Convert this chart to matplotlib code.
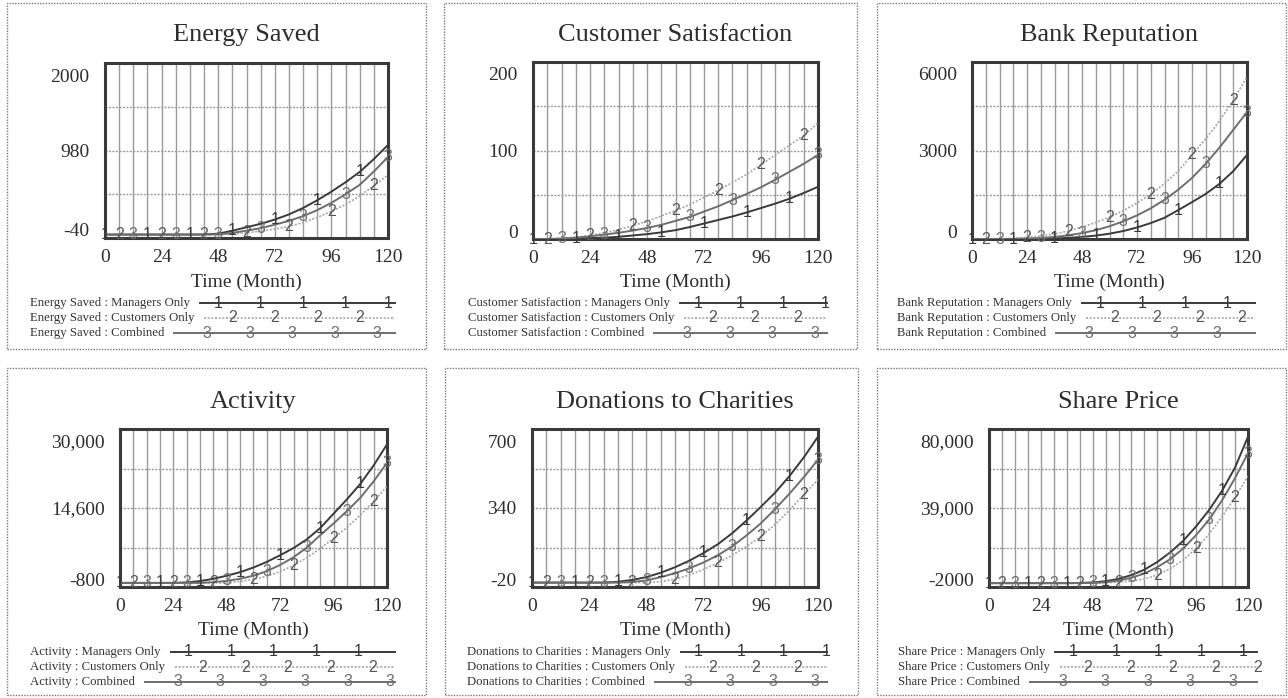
import numpy as np
import matplotlib
matplotlib.use("Agg")
import matplotlib.pyplot as plt
from matplotlib.lines import Line2D
from matplotlib.patches import Rectangle
import matplotlib.transforms as mtrans

W, H = 1288, 698
DPI = 100

# ---------------- data ----------------
months = list(range(0, 121, 6))
series_names = ["Managers Only", "Customers Only", "Combined"]
titles = ["Energy Saved", "Customer Satisfaction", "Bank Reputation",
          "Activity", "Donations to Charities", "Share Price"]

energy_managers = [0, 0, 0, 0, 0, 0, 0, 2, 10, 45, 85, 125, 175, 235, 310, 400, 500, 610, 730, 880, 1045]
energy_customers = [0, 0, 0, 0, 0, 0, 0, 0, 0, 5, 20, 40, 65, 95, 140, 200, 270, 350, 450, 570, 695]
energy_combined = [0, 0, 0, 0, 0, 0, 0, 0, 2, 20, 45, 75, 115, 160, 215, 285, 370, 470, 580, 735, 905]

satisf_managers = [0, 0, 0, 0.5, 1, 1.5, 2.5, 4, 5.5, 7.5, 10, 13.5, 17.5, 21.5, 25.5, 30, 35, 40, 45.5, 52, 59]
satisf_customers = [0, 0, 0.5, 2, 4, 7, 10.5, 15, 20, 26, 32, 39, 47, 55, 64, 73, 84, 95, 106, 117, 131]
satisf_combined = [0, 0, 0.5, 1.5, 3, 5, 7, 9.5, 12.5, 16, 20.5, 25, 31, 37, 44, 51, 58.5, 67, 76, 85, 95]

reput_managers = [0, 0, 0, 0, 2, 8, 20, 40, 70, 115, 180, 270, 390, 540, 720, 980, 1250, 1530, 1870, 2300, 2850]
reput_customers = [0, 0, 5, 20, 55, 100, 170, 270, 400, 560, 740, 960, 1220, 1520, 1880, 2300, 2850, 3400, 4000, 4700, 5500]
reput_combined = [0, 0, 0, 5, 15, 35, 70, 125, 200, 300, 430, 600, 800, 1040, 1330, 1670, 2070, 2550, 3100, 3700, 4300]

activ_managers = [0, 0, 0, 0, 0, 100, 350, 800, 1400, 2100, 3000, 4100, 5400, 6800, 8500, 10700, 13500, 16300, 19300, 22900, 27000]
activ_customers = [0, 0, 0, 0, 0, 0, 0, 0, 0, 300, 700, 1300, 2200, 3400, 4900, 6700, 8700, 10800, 13200, 15900, 18800]
activ_combined = [0, 0, 0, 0, 0, 0, 0, 150, 400, 800, 1400, 2300, 3500, 5000, 6900, 9300, 11600, 14000, 16600, 19800, 23400]

donat_managers = [0, 0, 0, 0, 0, 0, 4, 12, 25, 45, 70, 100, 135, 175, 225, 283, 345, 410, 485, 570, 665]
donat_customers = [0, 0, 0, 0, 0, 0, 0, 0, 0, 5, 15, 35, 60, 90, 125, 165, 210, 265, 330, 400, 470]
donat_combined = [0, 0, 0, 0, 0, 0, 0, 3, 10, 25, 43, 65, 92, 125, 165, 215, 270, 335, 405, 480, 560]

share_managers = [0, 0, 0, 0, 0, 0, 0, 100, 400, 1000, 2200, 4200, 7000, 11000, 16000, 22000, 29500, 38000, 48000, 60000, 76000]
share_customers = [0, 0, 0, 0, 0, 0, 0, 0, 0, 200, 500, 1100, 2200, 4200, 7500, 12000, 18000, 25500, 34500, 44500, 55500]
share_combined = [0, 0, 0, 0, 0, 0, 0, 0, 100, 500, 1300, 2800, 5000, 8300, 12500, 18000, 25000, 33000, 43000, 54500, 67500]

panel_series = [
    [energy_managers, energy_customers, energy_combined],
    [satisf_managers, satisf_customers, satisf_combined],
    [reput_managers, reput_customers, reput_combined],
    [activ_managers, activ_customers, activ_combined],
    [donat_managers, donat_customers, donat_combined],
    [share_managers, share_customers, share_combined],
]
y_ticks = [[-40, 980, 2000], [0, 100, 200], [0, 3000, 6000],
           [-800, 14600, 30000], [-20, 340, 700], [-2000, 39000, 80000]]
y_tick_labels = [["-40", "980", "2000"], ["0", "100", "200"], ["0", "3000", "6000"],
                 ["-800", "14,600", "30,000"], ["-20", "340", "700"],
                 ["-2000", "39,000", "80,000"]]
x_ticks = [0, 24, 48, 72, 96, 120]

# ---------------- layout (pixels: x from left, y from top) ----------------
plot_rects = [(105, 63, 388, 238), (533, 62, 818, 239), (972, 62, 1247, 239),
              (120, 429, 387, 587), (532, 429, 818, 587), (989, 429, 1248, 587)]
box_rects = [(7, 3, 426, 349), (444, 3, 857, 349), (877, 3, 1286, 349),
             (7, 368, 426, 695), (445, 368, 858, 695), (877, 368, 1286, 695)]
title_y = [35, 35, 35, 402, 402, 402]
xlabel_y = [282, 282, 282, 630, 630, 630]
legend_y = [[303, 318, 333]] * 3 + [[652, 667, 682]] * 3
legend_x = [30, 468, 897, 30, 467, 898]
legend_end = [395, 827, 1255, 395, 827, 1257]

colors = ["#3a3a3a", "#a6a6a6", "#6e6e6e"]
styles = ["-", (0, (1.2, 1.0)), "-"]
widths = [1.4, 1.2, 1.4]
label_offsets = [0, 6, 12]
legend_num_offset = [18, 28, 33]

TXT = "#2e2e2e"
SERIF = "Liberation Serif"
SANS = "Liberation Sans"


def fx(x):
    return x / W


def fy(y):
    return 1 - y / H


fig = plt.figure(figsize=(W / DPI, H / DPI), dpi=DPI)
fig.patch.set_facecolor("white")
renderer = fig.canvas.get_renderer()

for p in range(6):
    x0, y0, x1, y1 = plot_rects[p]
    ax = fig.add_axes([fx(x0), fy(y1), (x1 - x0) / W, (y1 - y0) / H])
    ymin, ymid, ymax = y_ticks[p]
    ax.set_xlim(0, 120)
    ax.set_ylim(ymin, ymax)

    # grid
    ax.set_xticks(x_ticks)
    ax.set_xticks(months, minor=True)
    ax.set_yticks(y_ticks[p])
    ax.set_yticks([ymin + (ymax - ymin) * q / 4 for q in (1, 3)], minor=True)
    ax.grid(which="both", axis="x", color="#9a9a9a", lw=1.0, ls="-")
    ax.grid(which="both", axis="y", color="#9a9a9a", lw=1.0, ls=(0, (1.5, 1.0)))
    ax.set_axisbelow(True)
    ax.tick_params(which="both", length=0)
    ax.tick_params(axis="x", pad=8, labelsize=14, labelcolor=TXT)
    ax.tick_params(axis="y", pad=11, labelsize=14, labelcolor=TXT)
    ax.set_xticklabels([str(t) for t in x_ticks], family=SERIF)
    ax.set_yticklabels(y_tick_labels[p], family=SERIF)
    ylabs = ax.get_yticklabels()
    ylabs[0].set_transform(ylabs[0].get_transform() +
                           mtrans.ScaledTranslation(0, 8 / DPI, fig.dpi_scale_trans))
    ylabs[2].set_transform(ylabs[2].get_transform() +
                           mtrans.ScaledTranslation(0, -12 / DPI, fig.dpi_scale_trans))
    for sp in ax.spines.values():
        sp.set_linewidth(2.2)
        sp.set_color("#3a3a3a")

    # series
    for i in range(3):
        vals = panel_series[p][i]
        ax.plot(months, vals, color=colors[i], ls=styles[i], lw=widths[i],
                clip_on=True, zorder=3)
        for t in range(label_offsets[i], 121, 18):
            v = np.interp(t, months, vals)
            ax.text(t, v, str(i + 1), ha="center", va="center", fontsize=11.5,
                    family=SANS, color=colors[i] if i != 1 else "#555555",
                    zorder=4, clip_on=False)

    # title / xlabel
    fig.text(fx((x0 + x1) / 2), fy(title_y[p]), titles[p], ha="center",
             va="center", fontsize=19, family=SERIF, color=TXT)
    fig.text(fx((x0 + x1) / 2), fy(xlabel_y[p]), "Time (Month)", ha="center",
             va="center", fontsize=14, family=SERIF, color=TXT)

    # panel box
    bx0, by0, bx1, by1 = box_rects[p]
    fig.patches.append(Rectangle((fx(bx0), fy(by1)), (bx1 - bx0) / W, (by1 - by0) / H,
                                 transform=fig.transFigure, fill=False,
                                 edgecolor="#7a7a7a", lw=1.0, ls=(0, (1, 1))))

    # legend
    for i in range(3):
        ly = legend_y[p][i]
        t = fig.text(fx(legend_x[p]), fy(ly), f"{titles[p]} : {series_names[i]}",
                     ha="left", va="center", fontsize=9.2, family=SERIF, color="#333333")
        bb = t.get_window_extent(renderer=renderer)
        start = bb.x1 + 10
        end = legend_end[p]
        fig.add_artist(Line2D([fx(start), fx(end)], [fy(ly), fy(ly)],
                              transform=fig.transFigure, color=colors[i],
                              ls=styles[i], lw=widths[i]))
        nx = start + legend_num_offset[i]
        while nx <= end + 2:
            fig.text(fx(nx), fy(ly), str(i + 1), ha="center", va="center",
                     fontsize=11.5, family=SANS,
                     color=colors[i] if i != 1 else "#555555")
            nx += 42.5

fig.savefig("out.png", dpi=DPI, facecolor="white")
